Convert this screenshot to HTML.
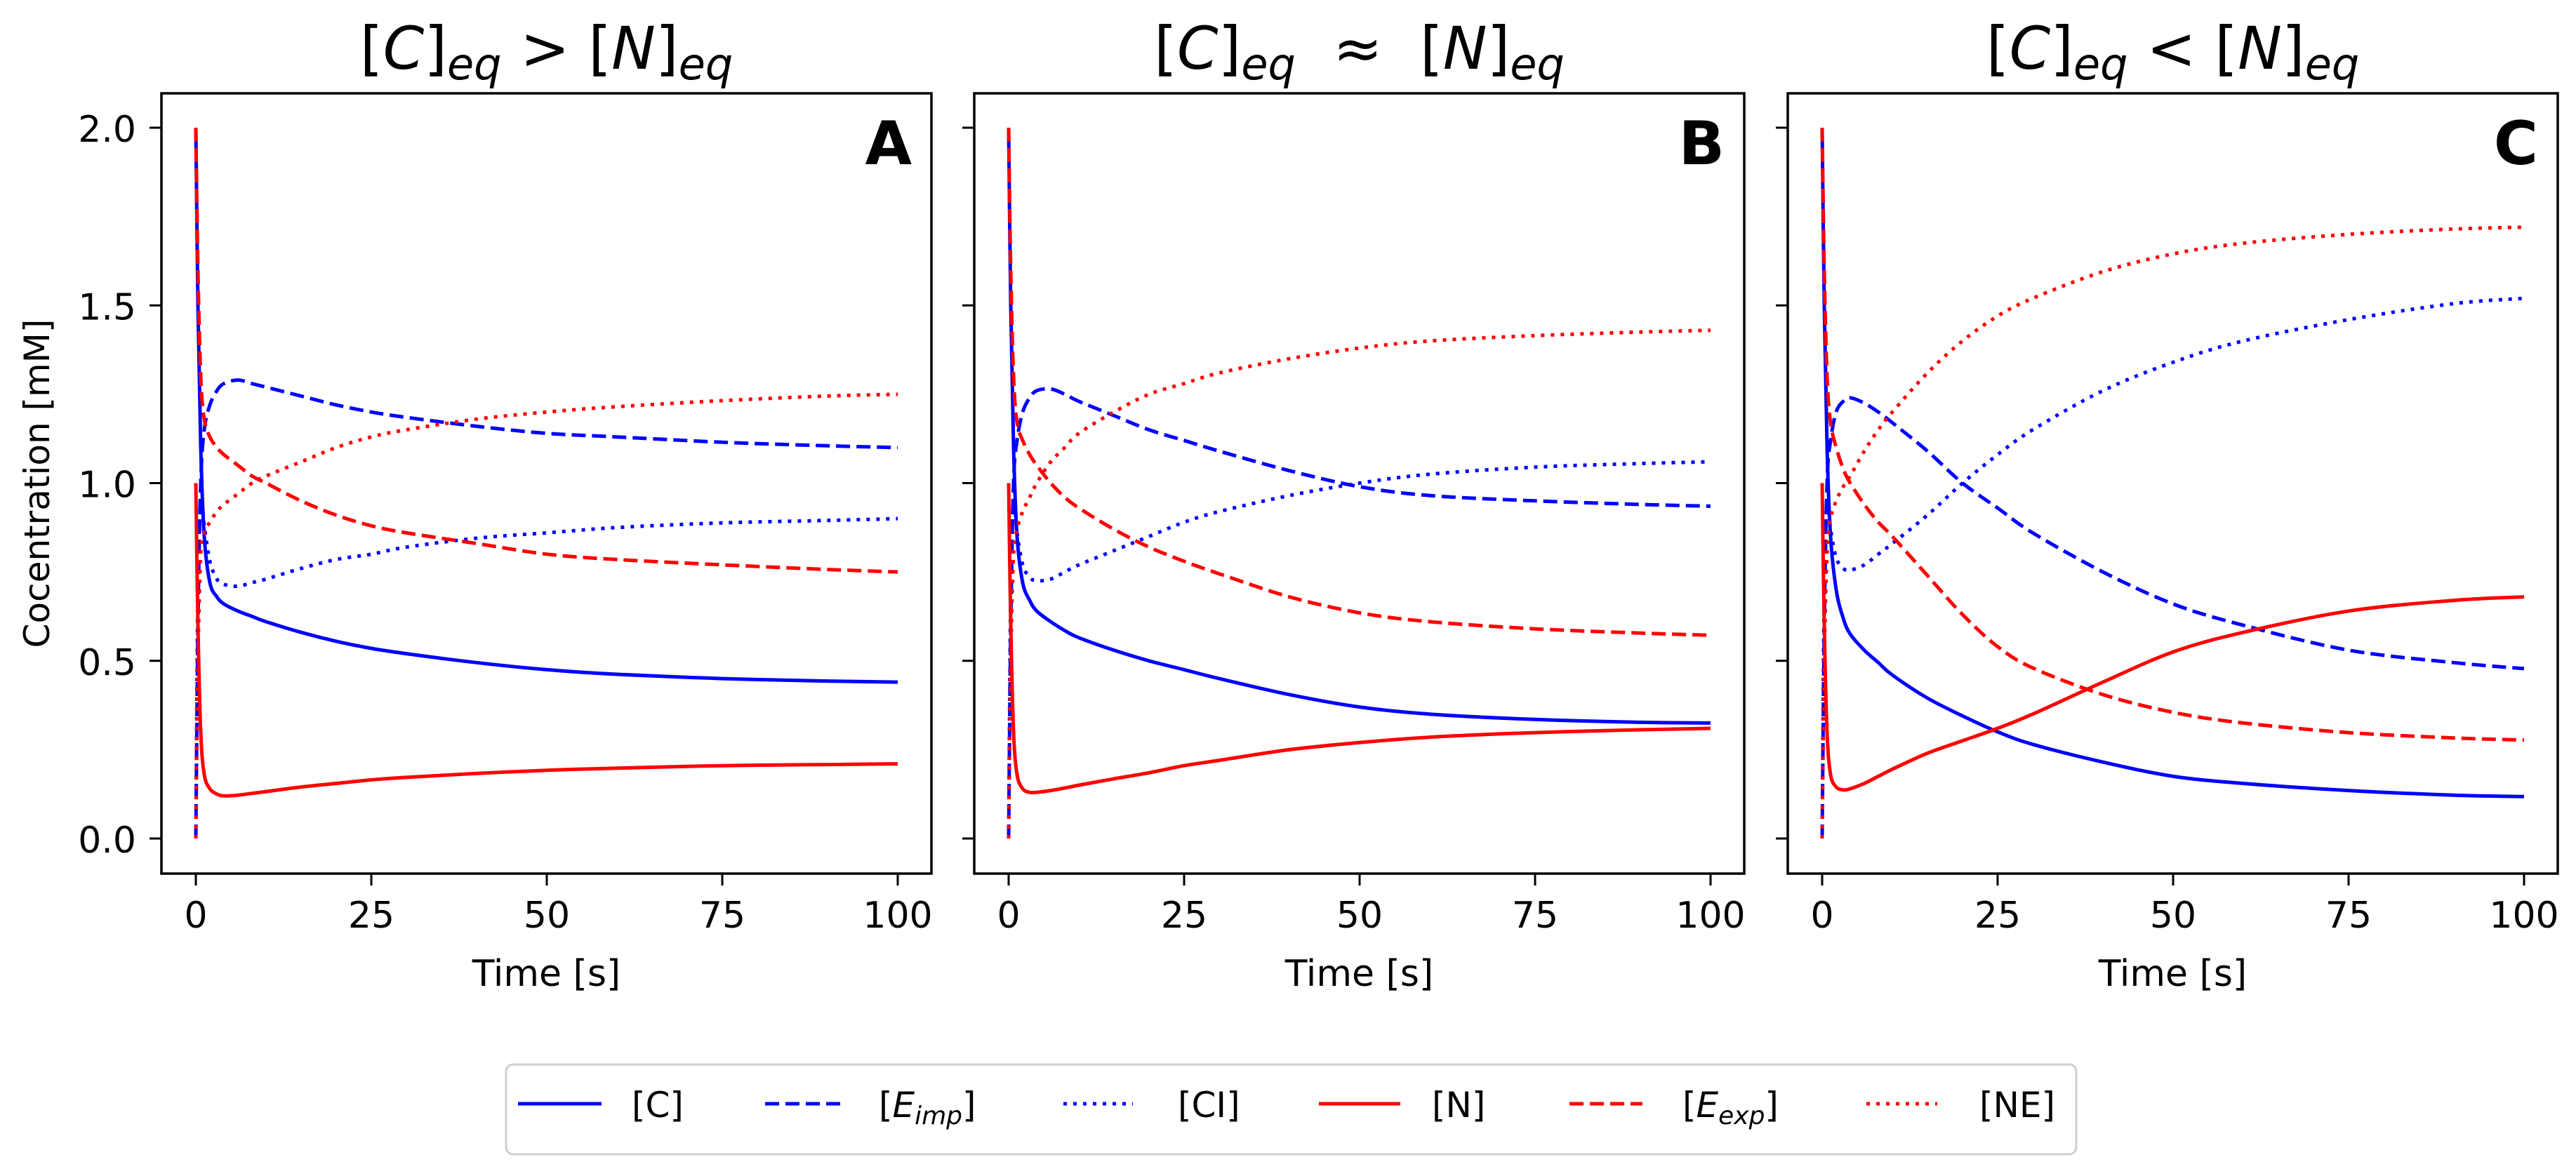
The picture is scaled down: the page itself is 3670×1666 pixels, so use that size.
<!DOCTYPE html>
<html><head><meta charset="utf-8"><style>
html,body{margin:0;padding:0;background:#fff;}
svg{display:block;font-family:"DejaVu Sans","Liberation Sans",sans-serif;}
</style></head><body>
<svg id="fig" width="3670" height="1666" viewBox="0 0 3670 1666" xmlns="http://www.w3.org/2000/svg">
<rect width="3670" height="1666" fill="#fff"/>
<g id="panels"></g>
<text transform="translate(70,689) rotate(-90)" text-anchor="middle" font-size="50">Cocentration [mM]</text>
<g>
<rect x="721" y="1517" width="2237" height="128" rx="10" fill="#fff" stroke="#cfcfcf" stroke-width="3"/>
<g><line x1="738" y1="1573" x2="857" y2="1573" stroke="#0000ff" stroke-width="5"/><text x="900" y="1592" font-size="50">[C]</text></g>
<g><line x1="1090" y1="1573" x2="1205" y2="1573" stroke="#0000ff" stroke-width="5" stroke-dasharray="20 9"/><text x="1252" y="1592" font-size="50">[<tspan font-style="italic">E</tspan><tspan font-style="italic" font-size="36" dy="10">imp</tspan><tspan dy="-10">]</tspan></text></g>
<g><line x1="1515" y1="1573" x2="1614" y2="1573" stroke="#0000ff" stroke-width="5" stroke-dasharray="5 9"/><text x="1678" y="1592" font-size="50">[CI]</text></g>
<g><line x1="1879" y1="1573" x2="1995" y2="1573" stroke="#ff0000" stroke-width="5"/><text x="2040" y="1592" font-size="50">[N]</text></g>
<g><line x1="2236" y1="1573" x2="2340" y2="1573" stroke="#ff0000" stroke-width="5" stroke-dasharray="20 9"/><text x="2397" y="1592" font-size="50">[<tspan font-style="italic">E</tspan><tspan font-style="italic" font-size="36" dy="10">exp</tspan><tspan dy="-10">]</tspan></text></g>
<g><line x1="2659" y1="1573" x2="2760" y2="1573" stroke="#ff0000" stroke-width="5" stroke-dasharray="5 9"/><text x="2820" y="1592" font-size="50">[NE]</text></g>
</g>
</svg>
<script>
const times = [0,0.3,0.7,1.2,2,3,4,6,8,10,15,20,25,30,40,50,60,75,90,100];
const xTicks = [0,25,50,75,100];
const yTicks = [0,0.5,1.0,1.5,2.0];
const yTickLabels = ["0.0","0.5","1.0","1.5","2.0"];
const panelLetters = ["A","B","C"];
// Panel A
const aC    = [2.0,1.5,1.1,0.85,0.72,0.68,0.66,0.64,0.625,0.61,0.58,0.555,0.535,0.52,0.495,0.475,0.462,0.45,0.443,0.44];
const aEimp = [0,0.6,1.0,1.15,1.22,1.26,1.28,1.29,1.28,1.27,1.245,1.22,1.2,1.185,1.16,1.14,1.13,1.115,1.105,1.10];
const aCI   = [0,0.7,0.95,0.88,0.78,0.73,0.715,0.71,0.72,0.73,0.76,0.785,0.80,0.82,0.845,0.86,0.875,0.888,0.895,0.90];
const aN    = [1.0,0.6,0.3,0.18,0.14,0.125,0.12,0.122,0.127,0.132,0.145,0.155,0.165,0.172,0.183,0.192,0.198,0.205,0.208,0.21];
const aEexp = [2.0,1.6,1.3,1.18,1.13,1.1,1.08,1.05,1.02,1.0,0.95,0.91,0.88,0.86,0.83,0.80,0.785,0.77,0.757,0.75];
const aNE   = [0,0.5,0.8,0.86,0.89,0.92,0.94,0.97,1.0,1.02,1.06,1.1,1.13,1.15,1.18,1.2,1.215,1.232,1.245,1.25];
// Panel B
const bC    = [2.0,1.5,1.1,0.85,0.72,0.67,0.64,0.61,0.585,0.565,0.53,0.5,0.475,0.45,0.405,0.37,0.35,0.335,0.327,0.325];
const bEimp = [0,0.6,1.0,1.12,1.2,1.24,1.26,1.265,1.25,1.23,1.19,1.15,1.12,1.09,1.035,0.99,0.965,0.95,0.94,0.935];
const bCI   = [0,0.7,0.95,0.86,0.77,0.735,0.725,0.73,0.75,0.77,0.81,0.85,0.89,0.92,0.965,1.0,1.025,1.045,1.055,1.06];
const bN    = [1.0,0.6,0.3,0.18,0.14,0.13,0.13,0.135,0.142,0.15,0.168,0.185,0.205,0.22,0.25,0.27,0.285,0.298,0.306,0.31];
const bEexp = [2.0,1.6,1.3,1.17,1.12,1.08,1.05,1.0,0.96,0.93,0.87,0.82,0.78,0.745,0.68,0.635,0.61,0.59,0.578,0.572];
const bNE   = [0,0.5,0.8,0.87,0.92,0.96,1.0,1.06,1.1,1.14,1.2,1.25,1.28,1.31,1.35,1.38,1.4,1.415,1.425,1.43];
// Panel C
const cC    = [2.0,1.5,1.1,0.85,0.7,0.62,0.575,0.53,0.495,0.46,0.395,0.345,0.30,0.265,0.215,0.175,0.155,0.135,0.122,0.118];
const cEimp = [0,0.6,1.0,1.12,1.2,1.23,1.24,1.225,1.2,1.17,1.09,1.0,0.93,0.86,0.75,0.66,0.6,0.53,0.495,0.478];
const cCI   = [0,0.7,0.95,0.87,0.79,0.76,0.755,0.77,0.8,0.83,0.91,1.0,1.08,1.15,1.26,1.34,1.4,1.46,1.505,1.52];
const cN    = [1.0,0.6,0.3,0.18,0.145,0.137,0.14,0.155,0.175,0.195,0.24,0.275,0.31,0.35,0.44,0.525,0.58,0.64,0.67,0.68];
const cEexp = [2.0,1.6,1.3,1.17,1.1,1.04,1.0,0.94,0.89,0.85,0.74,0.63,0.54,0.48,0.405,0.355,0.325,0.298,0.283,0.277];
const cNE   = [0,0.5,0.8,0.9,0.95,0.99,1.02,1.09,1.15,1.2,1.31,1.40,1.47,1.52,1.595,1.645,1.675,1.70,1.715,1.72];

const panelSeries = [
  [aC,aEimp,aCI,aN,aEexp,aNE],
  [bC,bEimp,bCI,bN,bEexp,bNE],
  [cC,cEimp,cCI,cN,cEexp,cNE]
];
const seriesNames = ["c","eimp","ci","n","eexp","ne"];
const seriesColors = ["#0000ff","#0000ff","#0000ff","#ff0000","#ff0000","#ff0000"];
const seriesDash = ["","20 9","5 9","","20 9","5 9"];

const NS = "http://www.w3.org/2000/svg";
const root = document.getElementById('panels');
const panelLeft = [230,1388,2547];
const panelW = 1097, panelTop = 133, panelBottom = 1245;
const y0px = 1195, yPerUnit = 506.5;
function mk(tag, attrs){ const e=document.createElementNS(NS,tag); for(const k in attrs) e.setAttribute(k,attrs[k]); return e; }
function smoothPath(pts){
  let d = "M"+pts[0][0].toFixed(1)+","+pts[0][1].toFixed(1);
  for(let i=0;i<pts.length-1;i++){
    const p0=pts[Math.max(0,i-1)], p1=pts[i], p2=pts[i+1], p3=pts[Math.min(pts.length-1,i+2)];
    const c1x=p1[0]+(p2[0]-p0[0])/6, c1y=p1[1]+(p2[1]-p0[1])/6;
    const c2x=p2[0]-(p3[0]-p1[0])/6, c2y=p2[1]-(p3[1]-p1[1])/6;
    d += " C"+c1x.toFixed(1)+","+c1y.toFixed(1)+" "+c2x.toFixed(1)+","+c2y.toFixed(1)+" "+p2[0].toFixed(1)+","+p2[1].toFixed(1);
  }
  return d;
}
const titles = [
  ['[','C',']','eq',' > [','N',']','eq'],
  ['[','C',']','eq','  ≈  [','N',']','eq'],
  ['[','C',']','eq',' < [','N',']','eq']
];
for(let p=0;p<3;p++){
  const L = panelLeft[p];
  const x0 = L + 49;
  const xs = t => x0 + t*10.0;
  const ys = v => y0px - v*yPerUnit;
  const g = mk('g',{});
  
  
  root.appendChild(g);
  const sg = mk('g',{});
  
  
  g.appendChild(sg);
  panelSeries[p].forEach((arr,si)=>{
    const pts = times.map((t,i)=>[xs(t), ys(arr[i])]);
    const path = mk('path',{d:smoothPath(pts),fill:'none',stroke:seriesColors[si],'stroke-width':'5','stroke-linejoin':'round'});
    if(seriesDash[si]) path.setAttribute('stroke-dasharray',seriesDash[si]);
    
    
    sg.appendChild(path);
  });
  const fr = mk('rect',{x:L,y:panelTop,width:panelW,height:panelBottom-panelTop,fill:'none',stroke:'#000','stroke-width':'3.5'});
  
  
  g.appendChild(fr);
  xTicks.forEach(t=>{
    const tk = mk('line',{x1:xs(t),x2:xs(t),y1:panelBottom,y2:panelBottom+17,stroke:'#000','stroke-width':'3'});
    
    
    g.appendChild(tk);
    const tl = mk('text',{x:xs(t),y:panelBottom+77,'text-anchor':'middle','font-size':'52'});
    
    
    tl.textContent = String(t);
    g.appendChild(tl);
  });
  yTicks.forEach((v,i)=>{
    const tk = mk('line',{x1:L-17,x2:L,y1:ys(v),y2:ys(v),stroke:'#000','stroke-width':'3'});
    
    
    g.appendChild(tk);
    if(p===0){
      const tl = mk('text',{x:L-36,y:ys(v)+20,'text-anchor':'end','font-size':'52'});
      
      
      tl.textContent = yTickLabels[i];
      g.appendChild(tl);
    }
  });
  const xl = mk('text',{x:L+panelW/2,y:1405,'text-anchor':'middle','font-size':'52'});
  
  
  xl.textContent='Time [s]';
  g.appendChild(xl);
  const lt = mk('text',{x:L+panelW-28,y:234,'text-anchor':'end','font-size':'86','font-weight':'bold'});
  
  
  lt.textContent=panelLetters[p];
  g.appendChild(lt);
  const ti = mk('text',{x:L+panelW/2,y:98,'text-anchor':'middle','font-size':'84'});
  
  
  const parts = titles[p];
  parts.forEach((s,k)=>{
    const ts = mk('tspan',{});
    if(s==='C'||s==='N') ts.setAttribute('font-style','italic');
    if(s==='eq'){ ts.setAttribute('font-style','italic'); ts.setAttribute('font-size','62'); ts.setAttribute('dy','15'); }
    if(k>0 && parts[k-1]==='eq') ts.setAttribute('dy','-15');
    ts.textContent = s;
    ti.appendChild(ts);
  });
  ti.setAttribute('style','white-space:pre');
  g.appendChild(ti);
}
</script>
</body></html>
